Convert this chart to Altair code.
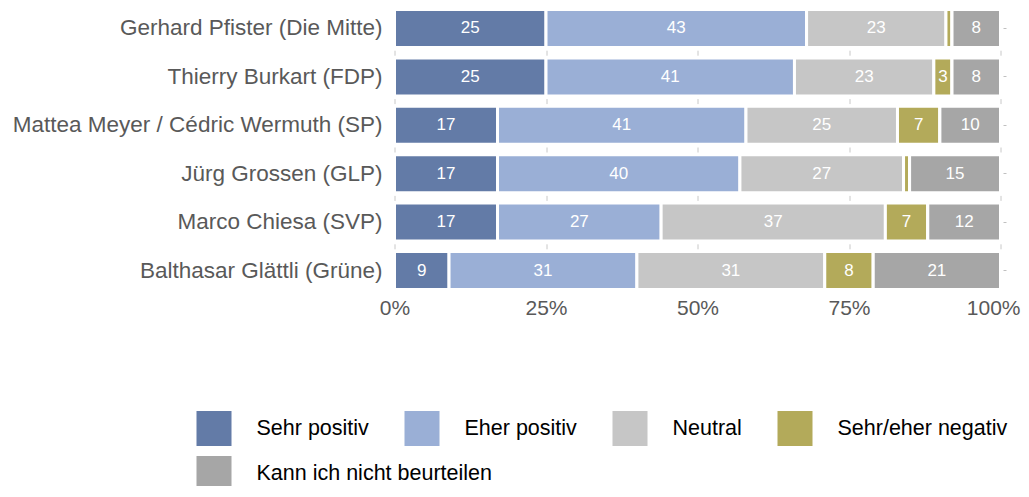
import altair as alt
import pandas as pd

names = [
    "Gerhard Pfister (Die Mitte)",
    "Thierry Burkart (FDP)",
    "Mattea Meyer / Cédric Wermuth (SP)",
    "Jürg Grossen (GLP)",
    "Marco Chiesa (SVP)",
    "Balthasar Glättli (Grüne)",
]
categories = ["Sehr positiv", "Eher positiv", "Neutral", "Sehr/eher negativ", "Kann ich nicht beurteilen"]
sehr_positiv = [25, 25, 17, 17, 17, 9]
eher_positiv = [43, 41, 41, 40, 27, 31]
neutral = [23, 23, 25, 27, 37, 31]
negativ = [1, 3, 7, 1, 7, 8]
kann_nicht = [8, 8, 10, 15, 12, 21]
colors = ["#637BA7", "#9AAFD6", "#C6C6C6", "#B3AA5A", "#A6A6A6"]
x_ticks = [0, 25, 50, 75, 100]

series = [sehr_positiv, eher_positiv, neutral, negativ, kann_nicht]
rows = []
for i, name in enumerate(names):
    start = 0
    for cat, vals in zip(categories, series):
        v = vals[i]
        rows.append({
            "name": name, "cat": cat, "value": v,
            "start": start, "end": start + v, "mid": start + v / 2,
            "label": str(v) if v >= 3 else "",
        })
        start += v
df = pd.DataFrame(rows)

FONT = "Liberation Sans"

y_scale = alt.Scale(domain=names, paddingInner=0.2149, paddingOuter=0.031)
x_scale = alt.Scale(domain=[0, 100], nice=False)
fill_scale = alt.Scale(domain=categories, range=colors)


def legend(values, ly):
    return alt.Legend(title=None, orient="none", legendX=-198, legendY=ly,
                      direction="horizontal", columns=len(values), values=values,
                      symbolType="square", symbolSize=1225,
                      symbolStrokeWidth=0, symbolOpacity=1,
                      labelFontSize=21.5, labelFont=FONT, labelColor="#000000",
                      labelOffset=25, columnPadding=35, labelLimit=400)


y_left = alt.Y("name:N", scale=y_scale, sort=names, title=None,
               axis=alt.Axis(orient="left", ticks=False, domain=False, labelFontSize=22.5,
                             labelColor="#595959", labelFont=FONT, labelPadding=12.5,
                             labelLimit=500))
x_axis = alt.X("start:Q", scale=x_scale, title=None,
               axis=alt.Axis(values=x_ticks, labelExpr="datum.value + '%'", ticks=False,
                             domain=False, labelFontSize=21, labelColor="#595959",
                             labelFont=FONT, labelPadding=6, labelFlush=False,
                             labelAlign={"condition": {"test": "datum.value == 100", "value": "right"},
                                         "value": "center"},
                             labelOffset={"condition": {"test": "datum.value == 100", "value": 19.5},
                                          "value": 0},
                             grid=True, gridColor="#c8c8c8", gridWidth=1,
                             gridDash=[5, 43.4], gridDashOffset=6.2))

bars = alt.Chart(df).mark_bar(stroke="white", strokeWidth=3).encode(
    y=y_left,
    x=x_axis,
    x2="end:Q",
    fill=alt.Fill("cat:N", scale=fill_scale, legend=legend(categories[:4], 403)),
)

bars_kann = alt.Chart(df[df["cat"] == categories[4]]).mark_bar(stroke="white", strokeWidth=3).encode(
    y=alt.Y("name:N", scale=y_scale, sort=names, title=None, axis=None),
    x=alt.X("start:Q", scale=x_scale, title=None),
    x2="end:Q",
    fill=alt.Fill("cat:N", scale=fill_scale, legend=legend(categories[4:], 448)),
)

texts = alt.Chart(df).mark_text(color="white", fontSize=17, font=FONT).encode(
    y=alt.Y("name:N", scale=y_scale, sort=names, title=None,
            axis=alt.Axis(orient="right", labels=False, domain=False, ticks=True,
                          tickSize=3, tickColor="#c0c0c0", offset=2.5)),
    x=alt.X("mid:Q", scale=x_scale, title=None),
    text="label:N",
)

chart = alt.layer(bars, bars_kann, texts).resolve_axis(y="independent").resolve_legend(
    fill="independent"
).properties(
    width=606, height=283,
    autosize=alt.AutoSizeParams(type="none"),
    padding={"left": 386.5, "top": 0, "right": 20, "bottom": 195},
).configure_view(stroke=None)

chart.save("out.html", embed_options={"renderer": "svg", "actions": False})
